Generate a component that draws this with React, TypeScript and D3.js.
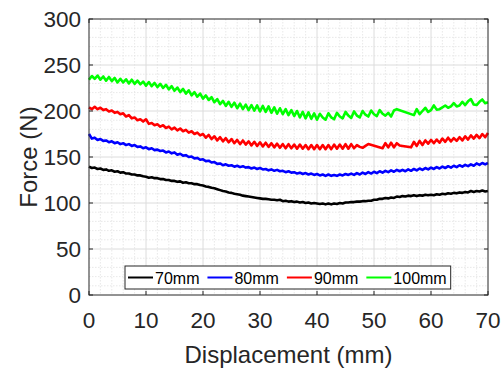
import React from 'react';
import * as d3 from 'd3';

// Displacement samples (mm), every 0.5 mm from 0 to 70
const displacement: number[] = d3.range(0, 141).map((i) => i * 0.5);

const seriesNames = ['70mm', '80mm', '90mm', '100mm'];
const seriesColors = ['#000000', '#0000ff', '#ff0000', '#00ff00'];

const force70: (number | null)[] = [
  139.5, 138, 138.5, 137, 137.5, 136, 136.5, 135, 135.5, 134, 134.5, 133, 133.5, 132, 132, 131, 131, 130, 130, 129, 128.5,
  127.5, 128, 127, 127, 126, 126, 125, 125, 124, 124, 123, 123.5, 122, 122.5, 121.5, 121.5, 120.5, 120.5, 119.5, 119,
  118, 117.5, 116.5, 116, 115, 114, 113, 112.5, 111.5, 111, 110, 109.5, 109, 108, 107.5, 107, 106.5, 106, 105.5, 105,
  104.5, 104.5, 104, 103.5, 103.5, 103, 103.5, 102, 102.5, 101.5, 102, 101, 101.5, 100.5, 101, 100, 100.5, 99.5, 100, 99.5,
  99, 99.5, 98.5, 99.5, 98.5, 99.5, 99, 100, 99.5, 100.5, 100.5, 101, 101, 101.5, 101.5, 102, 102, 102.5, 102.5, 103.5,
  103.5, 104.5, 104.5, 105.5, 105, 106, 105.5, 107, 106.5, 107.5, 107, 108, 107.5, 108.5, 107.5, 108.5, 108, 109, 108.5, 109,
  108.5, 109.5, 109, 110, 109.5, 110.5, 110, 111, 110.5, 111.5, 111, 112, 111.5, 113, 112, 113, 112.5, 113.5, 112.5, 113,
];

const force80: (number | null)[] = [
  175, 170, 171, 168.5, 169.5, 167.5, 168, 166, 167, 165, 166, 164, 165, 163, 164, 162, 163, 161, 161.5, 159.5, 160.5,
  158.5, 159.5, 157.5, 158, 156.5, 157, 155, 156, 154, 155, 152.5, 153.5, 151.5, 152, 150, 150.5, 148.5, 149, 147, 147.5,
  145.5, 146, 144, 144.5, 142.5, 143, 141, 142, 140.5, 141, 139.5, 140.5, 139, 140, 138.5, 139, 137.5, 138.5, 137, 138,
  136.5, 137, 135.5, 136.5, 135, 136, 134.5, 135, 133.5, 134.5, 133, 133.5, 132, 133, 131.5, 132.5, 131, 132, 130.5, 131.5,
  130, 131, 129.5, 131, 129.5, 130.5, 129.5, 131, 130, 131.5, 130.5, 132, 130.5, 132.5, 131, 133, 131.5, 133.5, 132, 134,
  132.5, 134.5, 133, 135, 133.5, 135.5, 134, 136, 134.5, 136, 134.5, 136.5, 135, 137, 135.5, 137.5, 136, 138, 136.5, 138.5,
  137, 139, 137.5, 139.5, 138, 140, 138.5, 140.5, 139, 141, 139.5, 141.5, 140, 142, 140.5, 143, 141.5, 143.5, 142, 143.5,
];

const force90: (number | null)[] = [
  204, 202, 204.5, 202, 203.5, 201, 202, 199.5, 200.5, 198, 199, 196.5, 197.5, 194, 195.5, 192, 193, 190, 191, 188.5, 191,
  186, 187, 184.5, 185.5, 183, 184.5, 181.5, 183, 180, 182, 179, 181, 178, 179.5, 176.5, 178, 175, 176.5, 173.5, 175,
  171, 174, 169.5, 172.5, 168, 171.5, 167, 170.5, 166, 169.5, 165, 168.5, 164, 168, 163.5, 167, 162.5, 166.5, 162, 166,
  161.5, 165.5, 161, 165, 160.5, 164.5, 160, 164, 159.5, 164, 159.5, 163.5, 159, 163.5, 159, 163, 158.5, 163, 158.5, 163,
  158.5, 163, 158.5, 163, 158.5, 163.5, 159, 163.5, 159, 164, 159, 164, 159.5, 163, 161, 160, 162, 164,
  null, null, null, null, 159.5,
  165, 160.5, 165.5, 160.5, 165, 162.5, 162, null, null, 160.5,
  166.5, 162, 167.5, 163, 168, 164.5, 168.5, 165, 169, 165.5, 170, 166.5, 171, 167, 170.5, 167.5, 171.5, 168, 172.5, 169,
  173.5, 170, 174, 170.5, 175, 171.5, 176,
];

const force100: (number | null)[] = [
  234, 238, 235, 238.5, 234, 237.5, 233, 237, 232.5, 236, 231, 235, 231, 234.5, 230, 234, 229.5, 233, 229, 232, 227.5,
  231.5, 227, 230.5, 226, 229.5, 225, 228.5, 223.5, 227, 222, 225.5, 220.5, 224, 219, 222.5, 217, 220.5, 215.5, 219, 213.5,
  217, 212, 215, 209.5, 213, 207.5, 211, 205.5, 210, 204.5, 209, 203, 208, 202, 207, 201, 206.5, 200.5, 206, 199.5,
  205.5, 199, 205, 198, 204, 197, 203, 196.5, 202, 195.5, 201, 194.5, 200, 193, 199, 192, 198.5, 191.5, 197.5, 190.5,
  197, 193, 190.5, 197.5, 193, 191, 198, 194, 192, 199, 195, 192.5, 199.5, 195, 193, 200, 196, 194, 200.5, 196.5,
  194.5, 201, 197, 195, 198, 194, 200.5, 202,
  null, null, null, null, null, 195.5,
  202, 196.5, 200, 203.5, 199, 201, 206, 201.5, 202, 204, 206, 203.5, 205, 208.5, 205, 206, 210, 206.5, 210.5, 213,
  207, 206.5, 210, 212.5, 208.5, 209.5,
];

const seriesValues = [force70, force80, force90, force100];

const xTicks = [0, 10, 20, 30, 40, 50, 60, 70];
const yTicks = [0, 50, 100, 150, 200, 250, 300];
const xMinorTicks = d3.range(0, 36).map((i) => i * 2);
const yMinorTicks = d3.range(0, 31).map((i) => i * 10);

const W = 503;
const H = 369;
const left = 89;
const right = 488;
const top = 19;
const bottom = 295;

const FONT = '"Liberation Sans", Arial, Helvetica, sans-serif';
const TEXT = '#262626';

export default function App() {
  const x = d3.scaleLinear().domain([0, 70]).range([left, right]);
  const y = d3.scaleLinear().domain([0, 300]).range([bottom, top]);

  const line = d3
    .line<[number, number]>()
    .x((d) => x(d[0]))
    .y((d) => y(d[1]));

  const paths = seriesValues.map((vals) => {
    const pts: [number, number][] = [];
    vals.forEach((v, i) => {
      if (v !== null && v !== undefined) pts.push([displacement[i], v]);
    });
    return line(pts) || '';
  });

  // legend layout
  const legendFont = 16;
  const charW: Record<string, number> = { m: 0.833, '0': 0.556, '1': 0.556, '7': 0.556, '8': 0.556, '9': 0.556 };
  const textWidth = (s: string) => s.split('').reduce((a, c) => a + (charW[c] || 0.556), 0) * legendFont;
  const legendX0 = 125;
  const legendY0 = 266;
  const legendH = 23;
  const gap = 8;
  let cx = legendX0 + 3;
  const entries = seriesNames.map((name, i) => {
    const e = { name, color: seriesColors[i], lx: cx, tx: cx + 27 };
    cx = e.tx + textWidth(name) + gap;
    return e;
  });
  const legendW = cx - gap + 4 - legendX0;

  return (
    <svg width={W} height={H} style={{ position: 'absolute', left: 0, top: 0, background: '#fff' }}>
      <rect x={0} y={0} width={W} height={H} fill="#fff" />
      {/* minor grid */}
      <g stroke="#e2e2e2" strokeWidth={0.8} strokeDasharray="1.5,1.5">
        {xMinorTicks.filter((t) => t % 10 !== 0).map((t) => (
          <line key={'xm' + t} x1={x(t)} x2={x(t)} y1={top} y2={bottom} />
        ))}
        {yMinorTicks.filter((t) => t % 50 !== 0).map((t) => (
          <line key={'ym' + t} x1={left} x2={right} y1={y(t)} y2={y(t)} />
        ))}
      </g>
      {/* major grid */}
      <g stroke="#dcdcdc" strokeWidth={1}>
        {xTicks.slice(1, -1).map((t) => (
          <line key={'xg' + t} x1={x(t)} x2={x(t)} y1={top} y2={bottom} />
        ))}
        {yTicks.slice(1, -1).map((t) => (
          <line key={'yg' + t} x1={left} x2={right} y1={y(t)} y2={y(t)} />
        ))}
      </g>
      {/* data lines */}
      <g fill="none" strokeWidth={2.6} strokeLinejoin="round">
        {paths.map((d, i) => (
          <path key={i} d={d} stroke={seriesColors[i]} />
        ))}
      </g>
      {/* axes box */}
      <rect x={left} y={top} width={right - left} height={bottom - top} fill="none" stroke={TEXT} strokeWidth={1} />
      <g stroke={TEXT} strokeWidth={1}>
        {xTicks.map((t) => (
          <g key={'xt' + t}>
            <line x1={x(t)} x2={x(t)} y1={bottom} y2={bottom - 4} />
            <line x1={x(t)} x2={x(t)} y1={top} y2={top + 4} />
          </g>
        ))}
        {yTicks.map((t) => (
          <g key={'yt' + t}>
            <line x1={left} x2={left + 4} y1={y(t)} y2={y(t)} />
            <line x1={right} x2={right - 4} y1={y(t)} y2={y(t)} />
          </g>
        ))}
      </g>
      {/* tick labels */}
      <g fontFamily={FONT} fontSize={22.5} fill={TEXT}>
        {xTicks.map((t) => (
          <text key={'xl' + t} x={x(t)} y={328} textAnchor="middle">
            {t}
          </text>
        ))}
        {yTicks.map((t) => (
          <text key={'yl' + t} x={81} y={y(t) + 8} textAnchor="end">
            {t}
          </text>
        ))}
      </g>
      {/* axis titles */}
      <text x={(left + right) / 2} y={363} textAnchor="middle" fontFamily={FONT} fontSize={24} fill={TEXT}>
        Displacement (mm)
      </text>
      <text
        transform={`translate(37, ${(top + bottom) / 2}) rotate(-90)`}
        textAnchor="middle"
        fontFamily={FONT}
        fontSize={24}
        fill={TEXT}
      >
        Force (N)
      </text>
      {/* legend */}
      <g>
        <rect x={legendX0} y={legendY0} width={legendW} height={legendH} fill="#fff" stroke={TEXT} strokeWidth={1} />
        {entries.map((e) => (
          <g key={e.name}>
            <line x1={e.lx} x2={e.lx + 25} y1={legendY0 + legendH / 2} y2={legendY0 + legendH / 2} stroke={e.color} strokeWidth={2} />
            <text x={e.tx} y={legendY0 + legendH / 2 + 6} fontFamily={FONT} fontSize={legendFont} fill="#000">
              {e.name}
            </text>
          </g>
        ))}
      </g>
    </svg>
  );
}
